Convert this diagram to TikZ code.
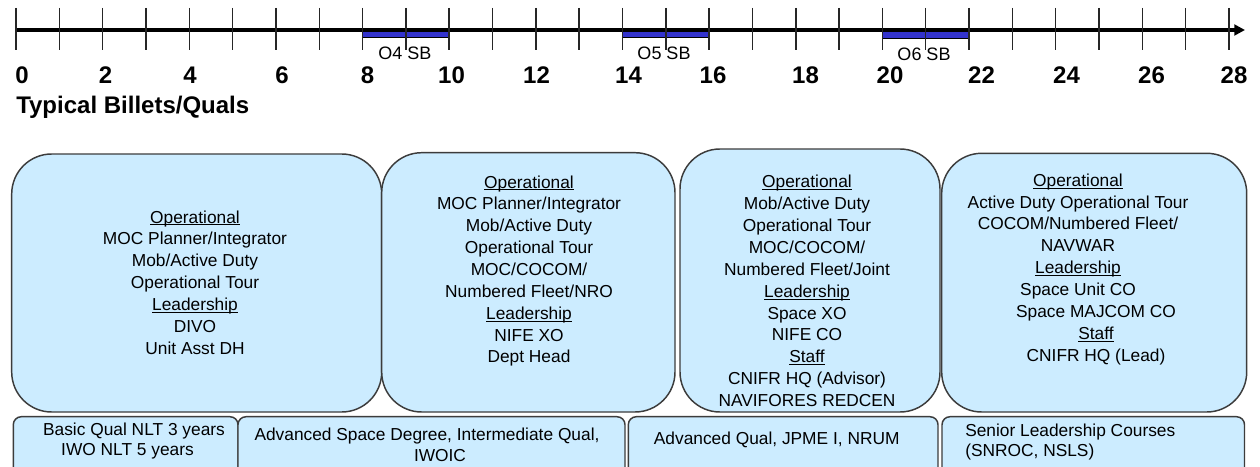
\documentclass[tikz,border=0pt]{standalone}
\usepackage{fontspec}
\setmainfont{Liberation Sans}
\usetikzlibrary{arrows.meta,fit}
\definecolor{boxfill}{RGB}{204,236,255}
\definecolor{boxline}{RGB}{60,60,60}
\definecolor{barblue}{RGB}{51,51,204}
\newcommand{\myul}[1]{\leavevmode\setbox0\hbox{#1}\rlap{\rule[-1.7pt]{\wd0}{0.7pt}}\box0}
\begin{document}
\begin{tikzpicture}[x=0.75pt,y=-0.75pt,
  axline/.style={line width=2.3pt,-{Triangle[length=8pt,width=8pt]}},
  axtick/.style={line width=1.1pt,black!85},
  barbox/.style={draw=black,line width=0.6pt,fill=barblue,inner sep=0pt},
  sblabel/.style={font=\fontsize{13.5}{15}\selectfont,inner sep=0pt},
  num/.style={font=\fontsize{18}{20}\selectfont\bfseries,anchor=base,inner sep=0pt},
  bigbox/.style={draw=boxline,fill=boxfill,line width=1.1pt,rounded corners=30pt,inner sep=0pt},
  smallbox/.style={draw=boxline,fill=boxfill,line width=1.1pt,rounded corners=6pt,inner sep=0pt},
  boxtext/.style={font=\fontsize{13}{16.4}\selectfont,align=center,inner sep=0pt},
  qualtext/.style={font=\fontsize{13}{15.5}\selectfont,inner sep=0pt}]
\useasboundingbox (0,0) rectangle (1260,467);
\clip (0,0) rectangle (1260,467);
\fill[white] (0,0) rectangle (1260,467);

% stage bars
\node[barbox,fit={(362.7,30) (449.3,37)}] (o4) {};
\node[barbox,fit={(622.7,30.5) (709.3,37.3)}] (o5) {};
\node[barbox,fit={(882.7,29.5) (969.3,38.3)}] (o6) {};

% axis
\coordinate (a0) at (16,30);
\coordinate (aend) at (1245,30);
\draw[axline] (a0) -- (aend);
\foreach \k in {0,...,28} {
  \coordinate (tt\k) at ({16+43.32*\k},8);
  \coordinate (tb\k) at ({16+43.32*\k},50);
  \draw[axtick] (tt\k) -- (tb\k);
}

\node[sblabel] (l4) at (405,53) {O4 SB};
\node[sblabel] (l5) at (664,53) {O5 SB};
\node[sblabel] (l6) at (924,54) {O6 SB};

% numbers
\foreach \v/\xx in {0/22,2/105.5,4/190,6/282,8/367.5,10/451.5,12/536.5,14/628.5,16/713,18/805.5,20/890,22/981.5,24/1066.5,26/1151.5,28/1234}
  \node[num] (n\v) at (\xx,83.5) {\v};

\node[font=\fontsize{18}{20}\selectfont\bfseries,anchor=base west,inner sep=0pt] (title) at (16,113.3) {Typical Billets/Quals};

% big boxes
\node[bigbox,fit={(11.7,154) (381.7,412)}] (b1) {};
\node[bigbox,fit={(381.7,152.7) (675,412)}] (b2) {};
\node[bigbox,fit={(680,149) (940,412)}] (b3) {};
\node[bigbox,fit={(941.7,153.3) (1246.7,412)}] (b4) {};

\node[boxtext] (t1) at (195,282.5) {\myul{Operational}\\MOC Planner/Integrator\\Mob/Active Duty\\Operational Tour\\\myul{Leadership}\\DIVO\\Unit Asst DH};
\node[boxtext] (t2) at (529,271) {\myul{Operational}\\MOC Planner/Integrator\\Mob/Active Duty\\Operational Tour\\MOC/COCOM/\\Numbered Fleet/NRO\\\myul{Leadership}\\NIFE XO\\Dept Head};
\node[boxtext] (t3) at (807,291) {\myul{Operational}\\Mob/Active Duty\\Operational Tour\\MOC/COCOM/\\Numbered Fleet/Joint\\\myul{Leadership}\\Space XO\\NIFE CO\\\myul{Staff}\\CNIFR HQ (Advisor)\\NAVIFORES REDCEN};
\node[boxtext] (t4) at (1078,269.2) {\myul{Operational}\\Active Duty Operational Tour\\COCOM/Numbered Fleet/\\NAVWAR\\\myul{Leadership}\\Space Unit CO\\\hspace*{27pt}Space MAJCOM CO\\\hspace*{27pt}\myul{Staff}\\\hspace*{27pt}CNIFR HQ (Lead)};

% qualification boxes
\node[smallbox,fit={(13.3,416.7) (238,490)}] (q1) {};
\node[smallbox,fit={(238,416.7) (625,490)}] (q2) {};
\node[smallbox,fit={(628.3,416.7) (938,490)}] (q3) {};
\node[smallbox,fit={(942,416.7) (1244.5,490)}] (q4) {};

\node[qualtext,align=center] (u1) at (127.5,441) {\hspace*{9.75pt}Basic Qual NLT 3 years\\IWO NLT 5 years};
\node[qualtext,align=center] (u2) at (427,445) {Advanced Space Degree, Intermediate Qual,\\\hspace*{19.5pt}IWOIC};
\node[qualtext] (u3) at (776.7,440) {Advanced Qual, JPME I, NRUM};
\node[qualtext,align=left,anchor=west] (u4) at (965,442) {Senior Leadership Courses\\(SNROC, NSLS)};
\end{tikzpicture}
\end{document}
